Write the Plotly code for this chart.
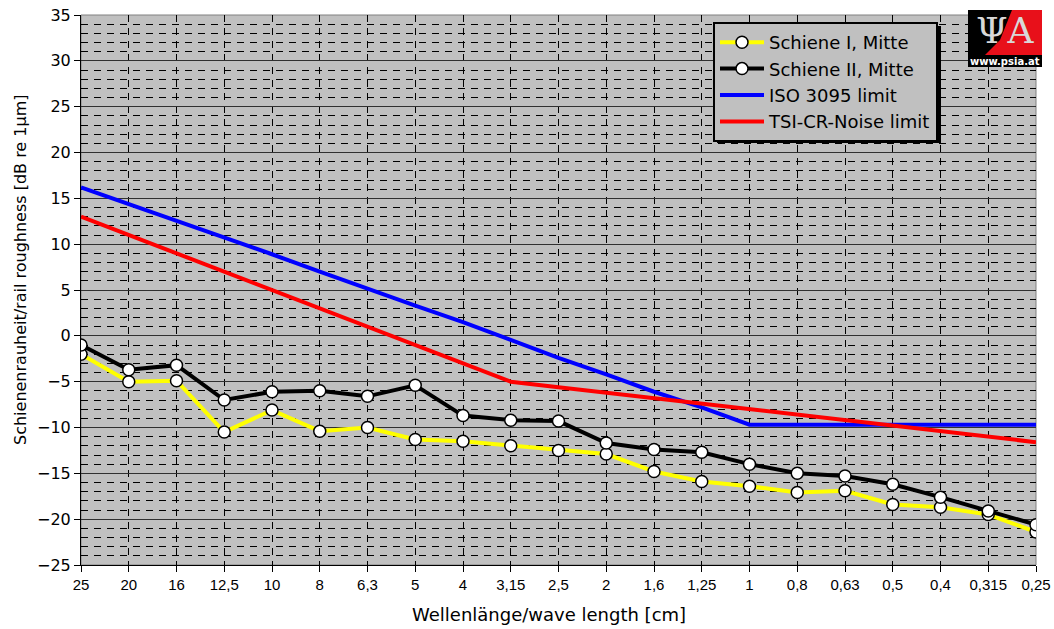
import plotly.graph_objects as go

# Third-octave wavelength bands [cm]
wavelengths = ["25", "20", "16", "12,5", "10", "8", "6,3", "5", "4", "3,15", "2,5",
               "2", "1,6", "1,25", "1", "0,8", "0,63", "0,5", "0,4", "0,315", "0,25"]

# Rail roughness levels [dB re 1 µm]
schiene_1_mitte = [-2.0, -5.0, -4.9, -10.5, -8.1, -10.4, -10.0, -11.3, -11.5, -12.0, -12.5,
                   -12.9, -14.8, -15.9, -16.4, -17.1, -16.9, -18.4, -18.7, -19.5, -21.4]
schiene_2_mitte = [-1.0, -3.7, -3.2, -7.0, -6.1, -6.0, -6.6, -5.4, -8.7, -9.2, -9.3,
                   -11.7, -12.4, -12.7, -14.0, -15.0, -15.3, -16.2, -17.6, -19.1, -20.6]
iso_3095_limit = [16.2, 14.4, 12.6, 10.8, 8.9, 7.0, 5.1, 3.3, 1.5, -0.5, -2.4,
                  -4.2, -6.1, -7.8, -9.7, -9.7, -9.7, -9.7, -9.7, -9.7, -9.7]
tsi_cr_noise_limit = [13.0, 11.0, 9.0, 7.0, 5.0, 3.0, 1.0, -1.0, -3.0, -5.0, -5.6,
                      -6.2, -6.8, -7.4, -8.0, -8.6, -9.2, -9.8, -10.4, -11.0, -11.6]

FONT = "DejaVu Sans"
TICK_FONT = "Liberation Sans Narrow, Liberation Sans, Arial"

W, H = 1054, 629
L, R, T, B = 81, 1036, 15, 565


def px(x):
    return (x - L) / (R - L)


def py(y):
    return (B - y) / (B - T)


marker = dict(symbol="circle", size=12, color="white", line=dict(color="black", width=1.5))

fig = go.Figure()
fig.add_trace(go.Scatter(x=wavelengths, y=schiene_1_mitte, name="Schiene I, Mitte",
                         mode="lines+markers", line=dict(color="#FFFF00", width=4),
                         marker=marker, legendgroup="a"))
fig.add_trace(go.Scatter(x=wavelengths, y=schiene_2_mitte, name="Schiene II, Mitte",
                         mode="lines+markers", line=dict(color="black", width=4),
                         marker=marker, legendgroup="b"))
fig.add_trace(go.Scatter(x=wavelengths, y=iso_3095_limit, name="ISO 3095 limit",
                         mode="lines", line=dict(color="#0000FF", width=4),
                         legendgroup="c"))
fig.add_trace(go.Scatter(x=wavelengths, y=tsi_cr_noise_limit, name="TSI-CR-Noise limit",
                         mode="lines", line=dict(color="#FF0000", width=4),
                         legendgroup="d"))

shapes = []
# plot area frame (top/right in grey)
shapes.append(dict(type="rect", xref="paper", yref="paper", x0=0, x1=1, y0=0, y1=1,
                   line=dict(color="#808080", width=1), layer="between"))

# legend drop shadow
shapes.append(dict(type="rect", xref="paper", yref="paper",
                   x0=px(717), x1=px(941), y0=py(143), y1=py(26),
                   fillcolor="black", line=dict(width=0), layer="above"))

# logo
shapes.append(dict(type="rect", xref="paper", yref="paper",
                   x0=px(968), x1=px(1042), y0=py(55), y1=py(10),
                   fillcolor="#E8101A", line=dict(width=0), layer="above"))
shapes.append(dict(type="path", xref="paper", yref="paper",
                   path="M {a},{b} L {c},{b} L {d},{e} L {f},{g} L {a},{g} Z".format(
                       a=px(968), b=py(10), c=px(1012), d=px(1000), e=py(40),
                       f=px(985), g=py(55)),
                   fillcolor="black", line=dict(width=0), layer="above"))
shapes.append(dict(type="rect", xref="paper", yref="paper",
                   x0=px(968), x1=px(1042), y0=py(67), y1=py(55),
                   fillcolor="black", line=dict(width=0), layer="above"))

annotations = [
    dict(text="ΨA", xref="paper", yref="paper", x=px(1005), y=py(31),
         showarrow=False, font=dict(family="DejaVu Serif", size=36, color="#D8D8D8"),
         xanchor="center", yanchor="middle"),
    dict(text="<b>www.psia.at</b>", xref="paper", yref="paper", x=px(1005), y=py(61.5),
         showarrow=False, font=dict(family="DejaVu Sans", size=10, color="white"),
         xanchor="center", yanchor="middle"),
    # axis titles
    dict(text="Wellenlänge/wave length [cm]", xref="paper", yref="paper",
         x=px(549), y=py(614), showarrow=False, xanchor="center", yanchor="middle",
         font=dict(family=FONT, size=18)),
    dict(text="Schienenrauheit/rail roughness [dB re 1µm]", xref="paper", yref="paper",
         x=px(20), y=py(270), showarrow=False, xanchor="center", yanchor="middle",
         textangle=-90, font=dict(family=FONT, size=16)),
]

fig.update_layout(
    width=W, height=H,
    margin=dict(l=L, r=W - R, t=T, b=H - B, autoexpand=False),
    paper_bgcolor="white",
    plot_bgcolor="#C0C0C0",
    font=dict(family=FONT, color="black"),
    shapes=shapes,
    annotations=annotations,
    showlegend=True,
    legend=dict(x=px(713), y=py(22), xanchor="left", yanchor="top",
                bgcolor="#C0C0C0", bordercolor="black", borderwidth=2,
                font=dict(family=FONT, size=18), tracegroupgap=0,
                itemwidth=44),
    xaxis=dict(
        type="category", range=[0, 20],
        showgrid=True, gridcolor="black", gridwidth=1, griddash="7px,6px",
        showline=True, linecolor="black", linewidth=1,
        ticks="outside", ticklen=6, tickcolor="black",
        tickfont=dict(family=TICK_FONT, size=15),
        zeroline=False,
    ),
    yaxis=dict(
        range=[-25, 35], dtick=5, tick0=0,
        showgrid=True, gridcolor="#303030", gridwidth=1,
        minor=dict(dtick=1, showgrid=True, gridcolor="black", griddash="7px,6px",
                   gridwidth=1),
        showline=True, linecolor="black", linewidth=1,
        ticks="outside", ticklen=6, tickcolor="black",
        tickfont=dict(family=FONT, size=16),
        zeroline=False,
    ),
)

fig.write_html("out.html")
